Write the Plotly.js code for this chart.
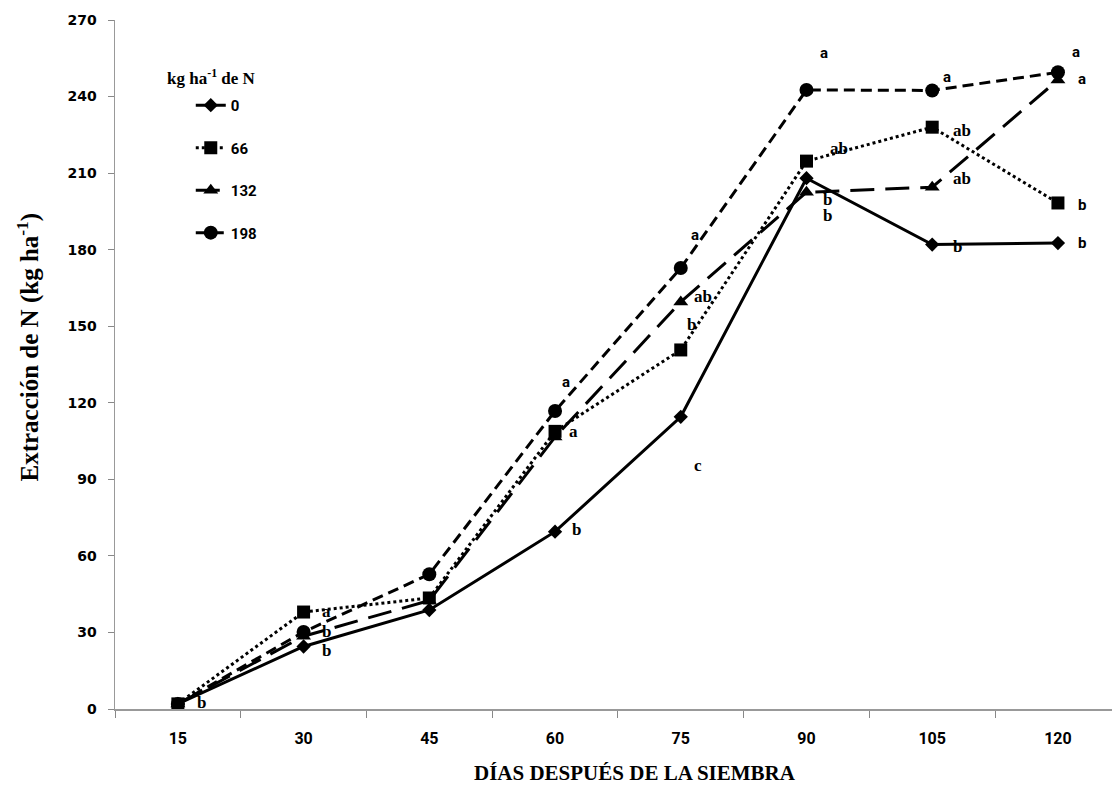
<!DOCTYPE html>
<html>
<head>
<meta charset="utf-8">
<script src="https://cdn.plot.ly/plotly-3.0.1.min.js"></script>
<style>html,body{margin:0;padding:0;background:#fff;}#chart{width:1112px;height:787px;}</style>
</head>
<body>
<div id="chart"></div>
<script>
// Days after sowing (categories)
const days = ["15", "30", "45", "60", "75", "90", "105", "120"];
// N extraction (kg ha-1) per N dose
const n0   = [2, 24.5, 38.8, 69.5, 114.5, 208, 182, 182.6];
const n66  = [2, 38, 43.5, 108.8, 140.7, 214.7, 228, 198.3];
const n132 = [2, 28.5, 42.5, 106.6, 159.5, 202.5, 204.5, 246.5];
const n198 = [2, 30.2, 52.8, 116.8, 172.8, 242.6, 242.4, 249.5];
const seriesNames = ["0", "66", "132", "198"];
const legendTitle = "kg ha<sup>-1</sup> de N";
const yTitle = "Extracción de N (kg ha<sup>-1</sup>)";
const xTitle = "DÍAS DESPUÉS DE LA SIEMBRA";

// significance letters: series index, day index, text
const letterSeries = [1, 1, 3, 0, 3, 1, 0, 3, 2, 1, 0, 3, 1, 2, 0, 3, 1, 2, 0, 3, 2, 1, 0];
const letterDay    = [0, 1, 1, 1, 3, 3, 3, 4, 4, 4, 4, 5, 5, 5, 5, 6, 6, 6, 6, 7, 7, 7, 7];
const letterText   = ["b", "a", "b", "b", "a", "a", "b", "a", "ab", "b", "c", "a", "ab", "b", "b", "a", "ab", "ab", "b", "a", "a", "b", "b"];
// placement offsets in pixels (dx right, dy down) and font family flag
const letterDx   = [24, 23, 23, 23, 11, 18, 21, 14, 22, 11, 17, 18, 33, 21, 21, 15, 30, 30, 25, 18, 24, 24, 24];
const letterDy   = [-1, -1, 0, 4, -29, 0, -2, -33, -5, -25, 49, -37, -13, 7, 37, -13, 3, -9, 2, -20, -1, 2, 0];
const letterSans = [0, 0, 0, 0, 1, 0, 0, 1, 0, 0, 0, 1, 0, 0, 0, 1, 0, 0, 0, 1, 1, 1, 1];

const allSeries = [n0, n66, n132, n198];
const symbols = ["diamond", "square", "triangle-up", "circle"];
const sizes = [11, 13, 13, 14];
const dashes = ["solid", "dot", "24px,11px", "11px,6px"];

const traces = allSeries.map((vals, i) => ({
  x: days, y: vals, type: "scatter", mode: "lines+markers",
  name: seriesNames[i], legendgroup: "g" + i,
  line: {color: "#000", width: 3, dash: dashes[i]},
  marker: {symbol: symbols[i], size: sizes[i], color: "#000"},
  cliponaxis: false
}));

const serif = "'Liberation Serif', 'Times New Roman', serif";
const sans = "Roboto, 'Liberation Sans', sans-serif";

const annotations = letterText.map((t, k) => ({
  x: letterDay[k], y: allSeries[letterSeries[k]][letterDay[k]],
  xref: "x", yref: "y", text: "<b>" + t + "</b>", showarrow: false,
  xshift: letterDx[k], yshift: -letterDy[k],
  font: {family: letterSans[k] ? sans : serif, size: letterSans[k] ? 15 : 17, color: "#000"}
}));
annotations.push({
  xref: "paper", yref: "paper", x: 0.05, y: 0.917, xanchor: "left", yanchor: "middle",
  text: "<b>" + legendTitle + "</b>", showarrow: false,
  font: {family: serif, size: 17, color: "#000"}
});
// axis titles (placed as in the reference)
annotations.push({
  xref: "paper", yref: "paper", x: -0.087, y: 0.525, xanchor: "center", yanchor: "middle",
  text: "<b>" + yTitle + "</b>", showarrow: false, textangle: -90,
  font: {family: serif, size: 25, color: "#000"}
});
annotations.push({
  xref: "paper", yref: "paper", x: 0.5216, y: -0.0935, xanchor: "center", yanchor: "middle",
  text: "<b>" + xTitle + "</b>", showarrow: false,
  font: {family: serif, size: 21, color: "#000"}
});

const layout = {
  width: 1112, height: 787,
  margin: {l: 115, r: 0, t: 20, b: 78},
  paper_bgcolor: "#fff", plot_bgcolor: "#fff",
  showlegend: true,
  legend: {x: 0.076, y: 0.9, xanchor: "left", yanchor: "top", bgcolor: "rgba(0,0,0,0)",
           tracegroupgap: 20, font: {family: sans, size: 15, color: "#000", weight: "bold"}},
  xaxis: {
    type: "category", range: [-0.5, 7.43], tickson: "boundaries",
    ticks: "outside", ticklen: 7, tickcolor: "#888", tickwidth: 1,
    showline: true, linecolor: "#999", linewidth: 1.5, showgrid: false, zeroline: false,
    tickfont: {family: sans, size: 16, color: "#000", weight: "bold"},
    ticklabelstandoff: 14
  },
  yaxis: {
    range: [0, 270], dtick: 30, tick0: 0,
    ticks: "outside", ticklen: 6, tickcolor: "#888", tickwidth: 1,
    showline: true, linecolor: "#999", linewidth: 1.5, showgrid: false, zeroline: false,
    tickfont: {family: "'DejaVu Sans', sans-serif", size: 14, color: "#000", weight: "bold"},
    ticklabelstandoff: 8
  },
  annotations: annotations
};

Plotly.newPlot("chart", traces, layout, {displayModeBar: false, staticPlot: true});
</script>
</body>
</html>
